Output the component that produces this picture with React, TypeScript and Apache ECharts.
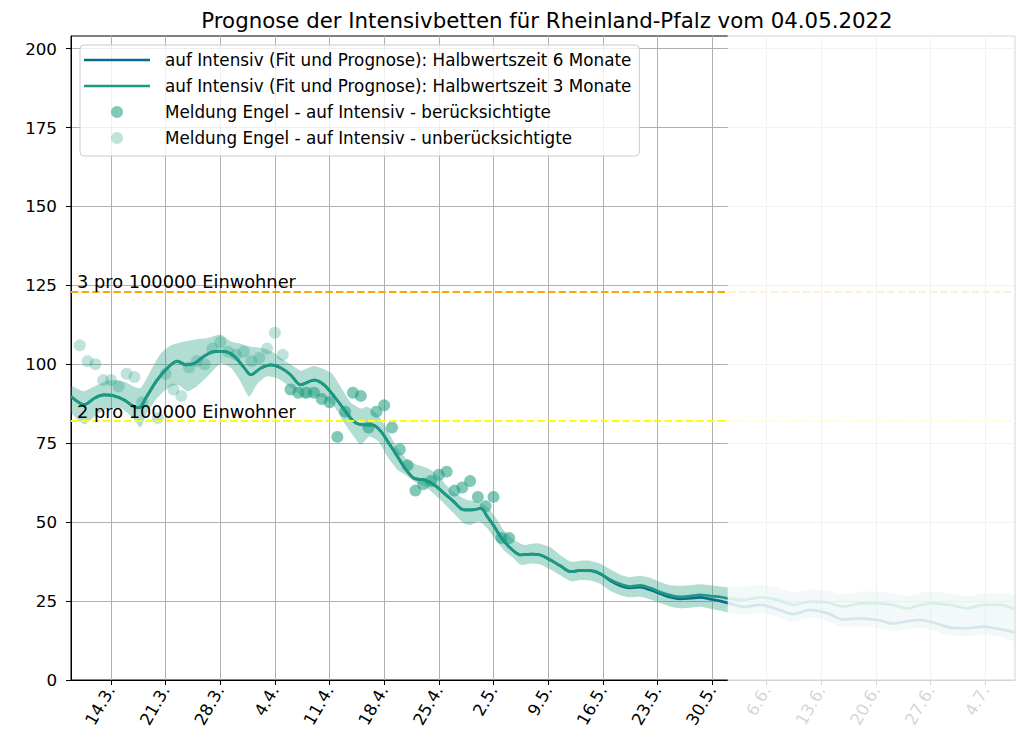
import React, { useEffect, useRef } from 'react';
import * as echarts from 'echarts';

const titleText = 'Prognose der Intensivbetten für Rheinland-Pfalz vom 04.05.2022';

// x values are days counted from 14.3.2022
const xMin = -5.12;
const xMax = 115.8;
const fadeStartDay = 79;
const tickDays = [0, 7, 14, 21, 28, 35, 42, 49, 56, 63, 70, 77, 84, 91, 98, 105, 112];
const tickLabels = ['14.3.', '21.3.', '28.3.', '4.4.', '11.4.', '18.4.', '25.4.', '2.5.', '9.5.', '16.5.', '23.5.', '30.5.', '6.6.', '13.6.', '20.6.', '27.6.', '4.7.'];
const yTicks = [0, 25, 50, 75, 100, 125, 150, 175, 200];
const yMax = 204;

const threshold3 = 123;
const threshold2 = 82;

const lightDays = [-4, -3, -2, -1, 0, 1, 2, 3, 4, 6, 7, 8, 9, 10, 11, 12, 13, 14, 15, 16, 17, 18, 19, 20, 21, 22];
const lightVals = [106, 101, 100, 95, 95, 93, 97, 96, 88, 83, 97, 92, 90, 99, 101, 100, 105, 107, 104, 103, 104, 101, 102, 105, 110, 103];

const darkDays = [23, 24, 25, 26, 27, 28, 29, 30, 31, 32, 33, 34, 35, 36, 37, 38, 39, 40, 41, 42, 43, 44, 45, 46, 47, 48, 49, 50, 51];
const darkVals = [92, 91, 91, 91, 89, 88, 77, 85, 91, 90, 80, 85, 87, 80, 73, 68, 60, 62, 63, 65, 66, 60, 61, 63, 58, 55, 58, 45, 45];

const fitDays = [-5.12, -3.4, -2.1, -0.9, 0.4, 1.7, 2.8, 3.6, 4.5, 5.9, 7.3, 8.5, 9.6, 10.7, 11.9, 13.2, 14.5, 15.8, 17.1, 17.9, 19.2, 20.5, 21.8, 23.0, 24.3, 26.0, 27.3, 28.6, 29.9, 31.1, 32.4, 33.5, 34.6, 35.6, 36.7, 37.8, 38.8, 40.1, 41.4, 42.7, 43.9, 45.2, 46.3, 47.4, 48.2, 49.1, 49.9, 51.2, 52.5, 53.8, 55.0, 56.3, 57.6, 58.9, 60.1, 61.4, 62.7, 64.0, 65.3, 66.5, 67.8, 69.1, 70.4, 71.7, 72.9, 74.2, 75.5, 76.8, 78.1, 79.1, 81.0, 83.2, 85.4, 87.4, 89.6, 91.8, 93.8, 96.0, 98.2, 100.2, 102.0, 103.7, 105.3, 107.5, 109.7, 111.7, 113.9, 115.8];
const fit3Vals = [89.8, 87.2, 89.3, 90.3, 90.0, 88.7, 86.8, 86.2, 89.5, 95, 99, 101, 99.8, 100.3, 102.5, 104, 104, 102.5, 98.8, 96.7, 98.8, 99.8, 98.8, 96.7, 93.5, 95, 93.5, 89.8, 85.6, 81.9, 80.8, 80.8, 78.7, 75, 70.8, 66.6, 63.9, 63.4, 61.8, 59.1, 56.5, 53.9, 53.9, 54.4, 51.8, 48.6, 45.4, 41.7, 39.6, 39.9, 39.6, 38, 36.1, 34.3, 34.7, 34.7, 33.7, 31.7, 30.3, 29.6, 30, 29.1, 27.8, 26.8, 26.3, 26.6, 27, 26.6, 26.3, 25.8, 25.4, 26.2, 25.4, 23.8, 24.8, 24.5, 23.2, 24.3, 24.3, 23.8, 22.7, 23.8, 24.3, 23.8, 22.7, 23.8, 23.8, 22.4];
// 6-Monate fit coincides with the 3-Monate fit until index 54, then diverges
const fit6SplitIndex = 54;
const fit6TailVals = [34.7, 34.6, 33.6, 31.4, 29.8, 29.2, 29.4, 28.5, 27.3, 26.2, 25.7, 25.9, 26.2, 25.6, 25.0, 24.3, 23.2, 23.8, 22.4, 20.9, 22.2, 21.1, 19.2, 19.5, 19.0, 17.9, 18.6, 19.0, 18.2, 16.6, 16.4, 16.9, 16.1, 15.0];

const bandUpperDays = [-5.12, -3.5, -1.7, 0, 1.7, 2.9, 3.8, 5.1, 6.4, 7.7, 9.0, 10.6, 12.4, 14.1, 15.4, 16.6, 17.9, 19.6, 20.9, 22.1, 23.4, 24.3, 26.0, 28.2, 29.4, 30.7, 32.0, 32.9, 34.2, 35.4, 36.7, 38.0, 39.3, 40.6, 41.8, 43.1, 44.4, 45.7, 47.0, 48.2, 49.5, 50.3, 51.6, 52.9, 54.6, 56.3, 57.6, 58.9, 60.1, 61.4, 62.7, 64.0, 65.3, 66.5, 67.8, 69.1, 70.4, 71.7, 72.9, 74.2, 75.5, 76.8, 78.1, 79.1, 81.0, 83.2, 85.4, 87.4, 89.6, 91.8, 93.8, 96.0, 98.2, 100.2, 102.0, 103.7, 105.3, 107.5, 109.7, 111.7, 113.9, 115.8];
const bandUpperVals = [93, 91.5, 93.5, 95, 94.5, 93, 92.5, 98, 103.5, 106, 107, 107.8, 108.3, 109.4, 107.2, 106.5, 105.6, 105, 103.6, 101.4, 99.4, 98, 99.5, 97.3, 93, 88, 86, 86.5, 84, 79.2, 73.4, 69.7, 68.1, 67.1, 65, 61.3, 58.6, 57, 56.5, 54.9, 50.7, 47.5, 44.4, 42.8, 43.3, 42, 39.5, 37.5, 37.8, 37.8, 36.8, 35, 33.3, 32.6, 33, 32.3, 31, 30, 29.8, 30, 30.3, 30, 29.6, 29.3, 29.6, 30, 29.2, 27.8, 28.6, 28.3, 27.2, 28, 28, 27.5, 26.6, 27.6, 28, 27.5, 26.6, 27.5, 27.6, 26.5];
const bandLowerDays = [-5.12, -3.4, -2.1, -0.4, 1.3, 2.8, 3.8, 4.5, 5.8, 7.3, 8.5, 9.8, 11.0, 12.5, 14.1, 15.4, 16.6, 17.7, 18.8, 20.0, 21.3, 22.6, 23.9, 24.7, 26.0, 27.3, 28.6, 29.9, 31.1, 32.0, 33.1, 34.3, 35.4, 36.7, 38.0, 39.2, 40.5, 42.2, 43.9, 45.2, 46.1, 47.1, 48.2, 49.3, 50.3, 51.6, 52.5, 53.8, 55.0, 56.3, 57.6, 58.9, 60.1, 61.4, 62.7, 64.0, 65.3, 66.5, 67.8, 69.1, 70.4, 71.7, 72.9, 74.2, 75.5, 76.8, 78.1, 79.1, 81.0, 83.2, 85.4, 87.4, 89.6, 91.8, 93.8, 96.0, 98.2, 100.2, 102.0, 103.7, 105.3, 107.5, 109.7, 111.7, 113.9, 115.8];
const bandLowerVals = [85, 81, 83.5, 86, 86, 83, 80, 84, 89, 92.5, 93.5, 91.5, 93, 96.5, 100.3, 98.8, 94.5, 89.8, 94, 96.2, 95.6, 93.5, 90.9, 89.3, 90, 89.3, 86.6, 81.3, 77.1, 74.5, 77.1, 75.5, 70.8, 66.6, 64.5, 62.3, 60.8, 57, 52.8, 49.6, 49.1, 50.2, 48.1, 44.4, 41.2, 38.5, 36.5, 36.9, 36.6, 35, 33.1, 31.3, 31.7, 31.5, 30.4, 28.2, 26.8, 26.2, 26.4, 25.5, 24.3, 23.2, 22.7, 22.9, 23.2, 22.6, 22, 21.3, 20.7, 21.3, 19.9, 18.4, 19.7, 18.6, 16.7, 17, 16.5, 15.4, 16.1, 16.5, 15.7, 14.1, 13.9, 14.4, 13.6, 12.5];

const nameFit6 = 'auf Intensiv (Fit und Prognose): Halbwertszeit 6 Monate';
const nameFit3 = 'auf Intensiv (Fit und Prognose): Halbwertszeit 3 Monate';
const nameDark = 'Meldung Engel - auf Intensiv - berücksichtigte';
const nameLight = 'Meldung Engel - auf Intensiv - unberücksichtigte';

const blue = '#0f6891';
const green = '#1a9a7e';
const font = 'DejaVu Sans';
const lineIcon = 'path://M0,0 L66,0 L66,2.6 L0,2.6 Z';

function pairs(xs: number[], ys: number[]) {
  return xs.map((x, i) => [x, ys[i]]);
}

export default function App() {
  const ref = useRef<HTMLDivElement>(null);
  useEffect(() => {
    const chart = echarts.init(ref.current as HTMLDivElement, null, { renderer: 'svg' });
    const fit6Vals = fit3Vals.slice(0, fit6SplitIndex).concat(fit6TailVals);
    const option: any = {
      animation: false,
      textStyle: { fontFamily: font },
      title: {
        text: titleText,
        left: 542,
        top: 5,
        textAlign: 'center',
        textStyle: { fontFamily: font, fontSize: 21.3, fontWeight: 'normal', color: '#000' },
      },
      grid: { left: 71, top: 36, right: 2, bottom: 64, show: true, borderColor: '#000', borderWidth: 1, backgroundColor: 'transparent' },
      legend: {
        orient: 'vertical',
        left: 80,
        top: 45,
        itemWidth: 66,
        itemHeight: 12,
        itemGap: 6,
        padding: [5, 8, 8, 4],
        backgroundColor: 'rgba(255,255,255,0.8)',
        borderColor: '#cccccc',
        borderWidth: 1,
        borderRadius: 4,
        textStyle: { fontFamily: font, fontSize: 16.8, lineHeight: 20, color: '#000', padding: [0, 0, 0, 10] },
        data: [
          { name: nameFit6, icon: lineIcon },
          { name: nameFit3, icon: lineIcon },
          { name: nameDark, icon: 'circle' },
          { name: nameLight, icon: 'circle' },
        ],
      },
      xAxis: {
        type: 'value',
        min: xMin,
        max: xMax,
        axisLine: { show: true, onZero: false, lineStyle: { color: '#000', width: 1 } },
        axisTick: { show: true, customValues: tickDays, length: 5, lineStyle: { color: '#000', width: 1 } },
        axisLabel: {
          customValues: tickDays,
          rotate: 60,
          margin: 7,
          fontFamily: font,
          fontSize: 16.7,
          color: '#000',
          formatter: (v: number) => {
            const i = tickDays.indexOf(v);
            return i >= 0 ? tickLabels[i] : '';
          },
        },
        splitLine: { show: true, lineStyle: { color: '#b0b0b0', width: 1 } },
      },
      yAxis: {
        type: 'value',
        min: 0,
        max: yMax,
        axisLine: { show: true, onZero: false, lineStyle: { color: '#000', width: 1 } },
        axisTick: { show: true, customValues: yTicks, length: 5, lineStyle: { color: '#000', width: 1 } },
        axisLabel: { customValues: yTicks, margin: 14, fontFamily: font, fontSize: 16.7, color: '#000' },
        splitLine: { show: true, lineStyle: { color: '#b0b0b0', width: 1 } },
      },
      series: [
        {
          type: 'custom',
          name: 'band',
          silent: true,
          clip: true,
          data: [[0, 0]],
          renderItem: (params: any, api: any) => {
            const pts: number[][] = [];
            for (let i = 0; i < bandUpperDays.length; i++) pts.push(api.coord([bandUpperDays[i], bandUpperVals[i]]));
            for (let i = bandLowerDays.length - 1; i >= 0; i--) pts.push(api.coord([bandLowerDays[i], bandLowerVals[i]]));
            return { type: 'polygon', shape: { points: pts, smooth: 0.2 }, style: { fill: 'rgba(26,154,126,0.34)' } };
          },
        },
        {
          type: 'scatter',
          name: nameLight,
          data: pairs(lightDays, lightVals),
          symbol: 'circle',
          symbolSize: 12,
          itemStyle: { color: 'rgba(26,154,126,0.35)' },
        },
        {
          type: 'scatter',
          name: nameDark,
          data: pairs(darkDays, darkVals),
          symbol: 'circle',
          symbolSize: 12,
          itemStyle: { color: 'rgba(26,154,126,0.68)' },
        },
        {
          type: 'line',
          name: nameFit6,
          data: pairs(fitDays, fit6Vals),
          symbol: 'none',
          showSymbol: false,
          smooth: 0.3,
          lineStyle: { color: blue, width: 2.7 },
          itemStyle: { color: blue },
        },
        {
          type: 'line',
          name: nameFit3,
          data: pairs(fitDays, fit3Vals),
          symbol: 'none',
          showSymbol: false,
          smooth: 0.3,
          lineStyle: { color: green, width: 2.7 },
          itemStyle: { color: green },
          markLine: {
            silent: true,
            symbol: ['none', 'none'],
            data: [
              { yAxis: threshold3, lineStyle: { color: '#FFA500', width: 2, type: [7.4, 3.2] }, label: { formatter: '3 pro 100000 Einwohner' } },
              { yAxis: threshold2, lineStyle: { color: '#FFFF00', width: 2, type: [7.4, 3.2] }, label: { formatter: '2 pro 100000 Einwohner' } },
            ],
            label: { show: true, position: 'insideStartTop', distance: [6, 1], color: '#000', fontFamily: font, fontSize: 17.8 },
          },
        },
      ],
    };
    chart.setOption(option);
    // fade everything right of the fade start (computed through the axis scale)
    const fadeX = chart.convertToPixel({ xAxisIndex: 0 }, fadeStartDay) as number;
    chart.setOption({
      graphic: [
        {
          type: 'rect',
          z: 100,
          silent: true,
          shape: { x: fadeX, y: 33, width: 1017 - fadeX, height: 744 - 33 },
          style: { fill: 'rgba(255,255,255,0.83)' },
        },
      ],
    });
    return () => chart.dispose();
  }, []);
  return <div ref={ref} style={{ position: 'absolute', left: 0, top: 0, width: 1017, height: 744 }} />;
}
